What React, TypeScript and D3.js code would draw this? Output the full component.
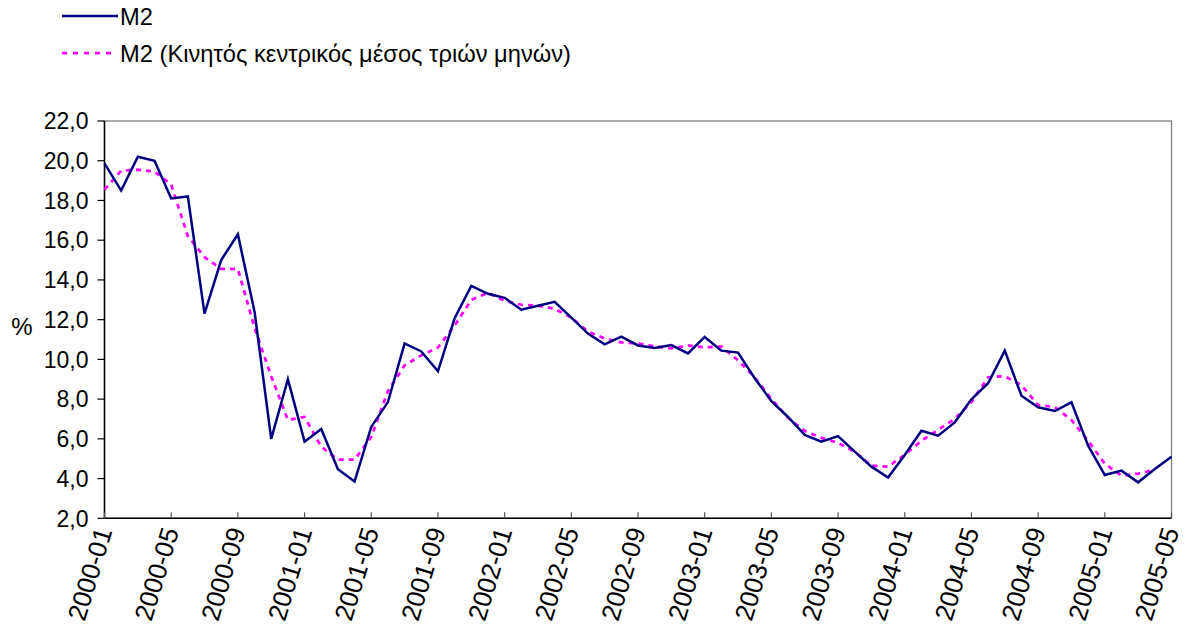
import React from "react";
import * as d3 from "d3";

const m2Values: number[] = [19.87, 18.5, 20.2, 20.0, 18.1, 18.2, 12.3, 15.0, 16.3, 12.4, 6.0, 9.0, 5.86, 6.5, 4.47, 3.85, 6.6, 7.85, 10.8, 10.4, 9.4, 12.07, 13.7, 13.3, 13.1, 12.5, 12.7, 12.9, 12.1, 11.3, 10.76, 11.14, 10.7, 10.57, 10.72, 10.3, 11.13, 10.44, 10.34, 9.05, 7.9, 7.1, 6.2, 5.86, 6.14, 5.36, 4.6, 4.05, 5.19, 6.41, 6.16, 6.83, 7.99, 8.8, 10.44, 8.17, 7.59, 7.4, 7.84, 5.66, 4.18, 4.4, 3.81, 4.48, 5.1];

const maValues: number[] = [18.55, 19.5, 19.55, 19.45, 18.8, 16.2, 15.15, 14.55, 14.55, 11.6, 9.15, 6.95, 7.1, 5.6, 4.95, 4.95, 6.1, 8.4, 9.7, 10.2, 10.6, 11.7, 13.0, 13.35, 12.95, 12.75, 12.7, 12.55, 12.1, 11.4, 11.05, 10.85, 10.8, 10.65, 10.55, 10.7, 10.6, 10.65, 9.95, 9.1, 8.0, 7.05, 6.4, 6.05, 5.8, 5.35, 4.65, 4.6, 5.2, 5.9, 6.45, 7.0, 7.85, 9.1, 9.15, 8.7, 7.7, 7.6, 6.95, 5.9, 4.75, 4.15, 4.25, 4.45];

const tickLabels: string[] = ["2000-01", "2000-05", "2000-09", "2001-01", "2001-05", "2001-09", "2002-01", "2002-05", "2002-09", "2003-01", "2003-05", "2003-09", "2004-01", "2004-05", "2004-09", "2005-01", "2005-05"];
const tickStep = 4;

const yTicks: number[] = [2, 4, 6, 8, 10, 12, 14, 16, 18, 20, 22];

const seriesNames: string[] = ["M2", "M2 (Κινητός κεντρικός μέσος τριών μηνών)"];

const W = 1186;
const H = 632;
const FONT = "'Liberation Sans', Arial, sans-serif";

export default function App() {
  const x = d3.scaleLinear().domain([0, m2Values.length - 1]).range([104.5, 1171.5]);
  const y = d3.scaleLinear().domain([2, 22]).range([518.3, 121]);
  const line = d3
    .line<number>()
    .x((_, i) => x(i))
    .y((d) => y(d));
  const fmt = (v: number) => v.toFixed(1).replace(".", ",");
  const [x0, x1] = x.range();
  const [yb, yt] = y.range();

  return (
    <svg
      width={W}
      height={H}
      style={{ position: "absolute", left: 0, top: 0, background: "#fff" }}
      fontFamily={FONT}
    >
      <rect x={0} y={0} width={W} height={H} fill="#fff" />
      {/* legend */}
      <line x1={62} x2={118} y1={16} y2={16} stroke="#000080" strokeWidth={2.5} />
      <text x={120} y={16} dy="0.36em" fontSize={23.7}>{seriesNames[0]}</text>
      <line x1={62} x2={116} y1={53} y2={53} stroke="#FF00FF" strokeWidth={2.75} strokeDasharray="5,6" />
      <text x={120} y={53} dy="0.36em" fontSize={23.7}>{seriesNames[1]}</text>

      {/* plot frame */}
      <rect x={x0} y={yt} width={x1 - x0} height={yb - yt} fill="none" stroke="#808080" strokeWidth={1.3} />

      {/* y axis */}
      <line x1={x0} x2={x0} y1={yt} y2={yb} stroke="#000" strokeWidth={1.5} />
      {yTicks.map((t) => (
        <g key={t}>
          <line x1={x0 - 7} x2={x0} y1={y(t)} y2={y(t)} stroke="#000" strokeWidth={1.2} />
          <text x={x0 - 16} y={y(t)} dy="0.36em" textAnchor="end" fontSize={23}>
            {fmt(t)}
          </text>
        </g>
      ))}
      <text x={22} y={326} dy="0.36em" textAnchor="middle" fontSize={24}>%</text>

      {/* x axis */}
      <line x1={x0} x2={x1} y1={yb} y2={yb} stroke="#000" strokeWidth={1.5} />
      {tickLabels.map((lab, k) => {
        const xi = x(k * tickStep);
        return (
          <g key={lab}>
            <line x1={xi} x2={xi} y1={yb} y2={yb - 6} stroke="#555" strokeWidth={1.2} />
            <text
              transform={`translate(${xi - 1},${yb + 10}) rotate(-73)`}
              dy="0.36em"
              textAnchor="end"
              fontSize={26}
            >
              {lab}
            </text>
          </g>
        );
      })}

      {/* series */}
      <path d={line(maValues) || ""} fill="none" stroke="#FF00FF" strokeWidth={2.75} strokeDasharray="5,5" />
      <path d={line(m2Values) || ""} fill="none" stroke="#000080" strokeWidth={2.5} strokeLinejoin="miter" />
    </svg>
  );
}
